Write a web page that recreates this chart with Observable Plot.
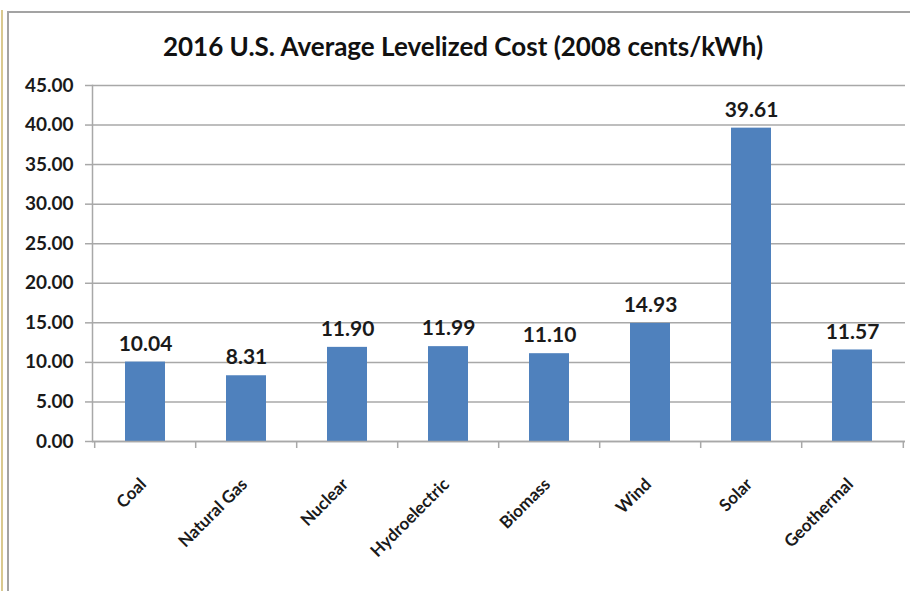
<!DOCTYPE html>
<html><head><meta charset="utf-8">
<script src="https://cdn.jsdelivr.net/npm/d3@7"></script>
<script src="https://cdn.jsdelivr.net/npm/@observablehq/plot@0.6"></script>
<style>
html,body{margin:0;padding:0;background:#fff;}
body{position:relative;width:910px;height:591px;overflow:hidden;font-family:Lato,"Open Sans",sans-serif;}
#tan{position:absolute;left:1px;top:10px;width:2px;height:600px;background:#d9c98f;}
#frame{position:absolute;left:7px;top:11px;width:920px;height:620px;border:2px solid #a3a3a3;box-sizing:border-box;}
#title{position:absolute;left:0;width:926px;top:30px;text-align:center;font-size:26px;font-weight:700;color:#111;font-family:Lato,sans-serif;}
#chart{position:absolute;left:0;top:0;}
</style></head>
<body>
<div id="tan"></div>
<div id="frame"></div>
<div id="title">2016 U.S. Average Levelized Cost (2008 cents/kWh)</div>
<div id="chart"></div>
<script>
const categories = ["Coal","Natural Gas","Nuclear","Hydroelectric","Biomass","Wind","Solar","Geothermal"];
const costs = [10.04, 8.31, 11.90, 11.99, 11.10, 14.93, 39.61, 11.57];
const yTicks = [0,5,10,15,20,25,30,35,40,45];

const data = categories.map((c,i)=>({category:c, cost:costs[i]}));
const W = 910, H = 591, mL = 92, mR = 5;
const step = (W - mL - mR) / categories.length;
const gray = "#a8a8a8";

const plot = Plot.plot({
  width: W, height: H,
  marginLeft: mL, marginRight: mR, marginTop: 85, marginBottom: 150,
  style: {fontFamily: "Lato, sans-serif", background: "transparent", overflow: "visible"},
  x: {domain: categories, paddingInner: 0.6, paddingOuter: 0.3, align: 0.5},
  y: {domain: [0,45]},
  marks: [
    Plot.gridY(yTicks, {stroke: gray, strokeOpacity: 1, strokeWidth: 1.5}),
    Plot.axisY(yTicks, {tickSize: 7, tickPadding: 12, tickFormat: d3.format(".2f"), stroke: gray, strokeWidth: 1.5, fontSize: 19, fontWeight: 700, fill: "#1a1a1a", label: null}),
    Plot.frame({anchor: "left", stroke: gray, strokeWidth: 1.5}),
    Plot.barY(data, {x: "category", y: "cost", fill: "#4f81bd"}),
    Plot.ruleY([0], {stroke: gray, strokeWidth: 1.5}),
    Plot.ruleX(categories, {x: d=>d, y1: 0, y2: 0, dx: -step/2, stroke: gray, strokeWidth: 1.5, insetBottom: -7}),
    Plot.ruleX(categories.slice(-1), {x: d=>d, y1: 0, y2: 0, dx: step/2, stroke: gray, strokeWidth: 1.5, insetBottom: -7}),
    Plot.text(data, {x: "category", y: "cost", text: d=>d3.format(".2f")(d.cost), dy: -18, fontSize: 21, fontWeight: 700, fill: "#1a1a1a"}),
    Plot.axisX({tickSize: 0, tickRotate: -45, tickPadding: 30, dy: 10, dx: -2, fontSize: 17, fontWeight: 700, fill: "#1a1a1a", label: null})
  ]
});
document.getElementById("chart").appendChild(plot);
</script>
</body></html>
